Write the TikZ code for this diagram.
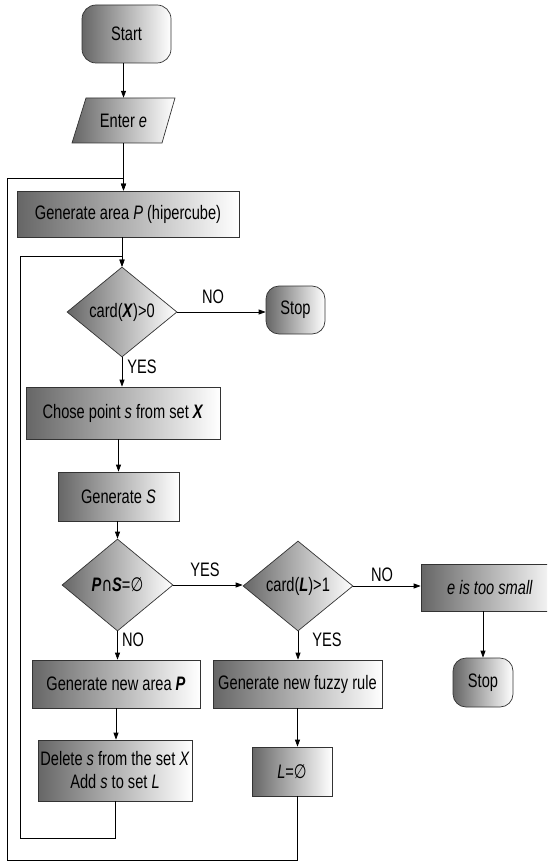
\documentclass[tikz,border=0pt]{standalone}
\usepackage{fontspec}
\setmainfont{Liberation Sans}[FakeStretch=0.75]
\newfontfamily\symfont{DejaVu Sans}[FakeStretch=0.75]
\usetikzlibrary{shapes.geometric,arrows.meta}
\tikzset{
  txt/.style={inner sep=0pt, align=center, font=\fontsize{19.5}{23}\selectfont},
  shapefill/.style={draw=black!80, line width=0.7pt, left color=black!60, right color=white},
  proc/.style={txt, shapefill, rectangle},
  term/.style={txt, shapefill, rectangle, rounded corners=14pt},
  dec/.style={txt, shapefill, diamond},
  lbl/.style={txt},
  arr/.style={draw=black, line width=0.8pt, -{Triangle[length=7pt,width=5pt]}},
}
\begin{document}
\begin{tikzpicture}[x=1pt,y=-1pt]
\useasboundingbox (0,0) rectangle (547,861);
\clip (0,0) rectangle (547,861);

\node[term, minimum width=89pt, minimum height=58pt] (start) at (126.5,34) {Start};
\path[shapefill] (86,98) -- (175,98) -- (162,143) -- (72,143) -- cycle;
\node[txt, minimum width=76pt, minimum height=45pt] (enter) at (123.5,120.5) {Enter \textit{e}};
\node[proc, minimum width=222pt, minimum height=46pt] (genP) at (128,214) {Generate area \textit{P} (hipercube)};
\node[dec, minimum width=110pt, minimum height=90pt] (d1) at (122,312) {card(\textbf{\textit{X}})>0};
\node[term, rounded corners=13pt, minimum width=59pt, minimum height=48pt] (stop1) at (295.5,310) {Stop};
\node[proc, minimum width=194pt, minimum height=52pt] (chose) at (123,413) {Chose point \textit{s} from set \textbf{\textit{X}}};
\node[proc, minimum width=121pt, minimum height=49pt] (genS) at (118.5,496.5) {Generate \textit{S}};
\node[dec, minimum width=111pt, minimum height=92pt] (d2) at (117.5,585) {\textbf{\textit{P}}{\symfont ∩}\textbf{\textit{S}}={\symfont ∅}};
\node[dec, minimum width=110pt, minimum height=90pt] (d3) at (298,586) {card(\textbf{\textit{L}})>1};
\node[proc, minimum width=138pt, minimum height=47pt] (small) at (490,587.5) {\textit{e is too small}};
\node[term, rounded corners=13pt, minimum width=60pt, minimum height=49pt] (stop2) at (483,682.5) {Stop};
\node[proc, minimum width=168pt, minimum height=48pt] (newP) at (116,684) {Generate new area \textbf{\textit{P}}};
\node[proc, minimum width=169pt, minimum height=48pt] (fuzzy) at (297.5,684) {Generate new fuzzy rule};
\node[proc, minimum width=154pt, minimum height=61pt] (del) at (115,770.5) {Delete \textit{s} from the set \textit{X}\\Add \textit{s} to set \textit{L}};
\node[proc, minimum width=80pt, minimum height=49pt] (lempty) at (292,771.5) {\textit{L}={\symfont ∅}};

\node[lbl] (lno1) at (213,297) {NO};
\node[lbl] (lyes1) at (142,367) {YES};
\node[lbl] (lyes2) at (205,570) {YES};
\node[lbl] (lno2) at (382,575) {NO};
\node[lbl] (lno3) at (133,640) {NO};
\node[lbl] (lyes3) at (327,640) {YES};

\coordinate (i1) at (20,838);
\coordinate (i2) at (20,256);
\coordinate (o1) at (7,860);
\coordinate (o2) at (7,178);

\draw[arr] (enter.north |- start.south) -- (enter.north);
\draw[arr] (enter.south) -- (enter.south |- genP.north);
\draw[arr] (d1.north |- genP.south) -- (d1.north);
\draw[arr] (d1.east) -- (d1.east -| stop1.west);
\draw[arr] (d1.south) -- (d1.south |- chose.north);
\draw[arr] (genS.north |- chose.south) -- (genS.north);
\draw[arr] (d2.north |- genS.south) -- (d2.north);
\draw[arr] (d2.east) -- (d2.east -| d3.west);
\draw[arr] (d3.east) -- (d3.east -| small.west);
\draw[arr] (d2.south) -- (d2.south |- newP.north);
\draw[arr] (newP.south) -- (newP.south |- del.north);
\draw[arr] (d3.south) -- (d3.south |- fuzzy.north);
\draw[arr] (fuzzy.south) -- (fuzzy.south |- lempty.north);
\draw[arr] (stop2.north |- small.south) -- (stop2.north);
\draw[arr] (del.south) |- (i1) -- (i2) -| (d1.north);
\draw[arr] (fuzzy.south |- lempty.south) |- (o1) -- (o2) -| (enter.south |- genP.north);
\end{tikzpicture}
\end{document}
